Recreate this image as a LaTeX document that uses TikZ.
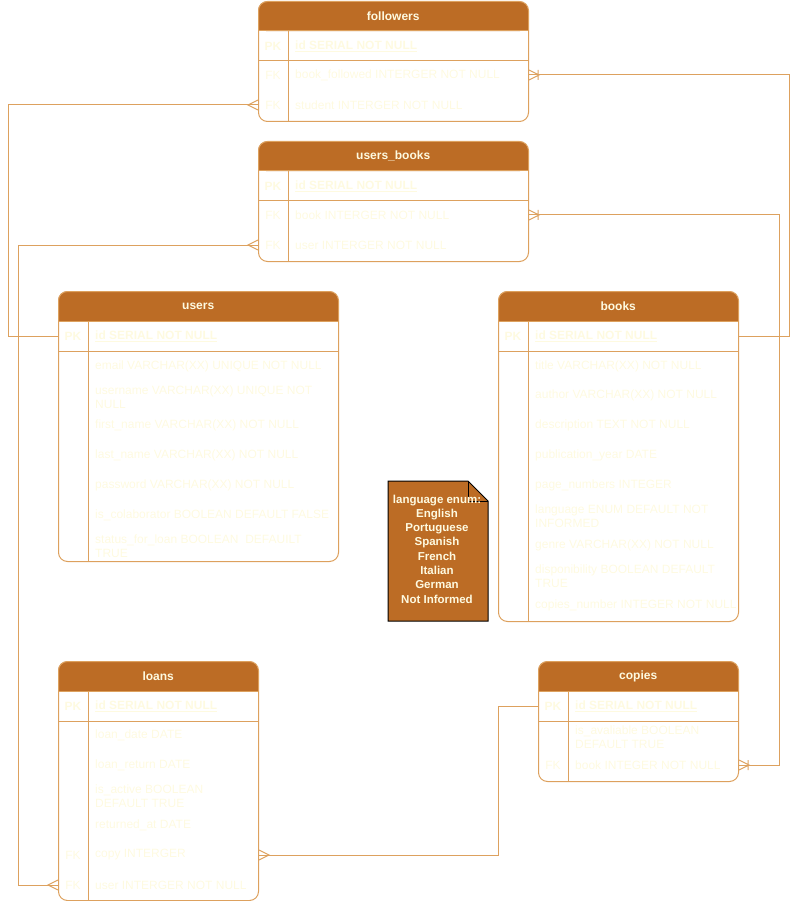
\documentclass[tikz,border=0pt]{standalone}
\usepackage{fontspec}
\setmainfont{Liberation Sans}
\usepackage{tikz}
\usetikzlibrary{calc}

\definecolor{erhead}{HTML}{BC6C25}
\definecolor{erline}{HTML}{DDA15E}
\definecolor{ercream}{HTML}{FEFAE0}

\tikzset{
  tbl/.style={draw=erline, line width=1pt, rounded corners=9pt, anchor=north west, inner sep=0pt},
  hdr/.style={fill=erhead, text=ercream, font=\bfseries\fontsize{12}{14}\selectfont, rounded corners=9pt, anchor=north west, inner sep=0pt},
  fld/.style={text=ercream, anchor=west, align=left, inner sep=0pt, font=\fontsize{12}{14}\selectfont},
  pkfld/.style={fld, font=\bfseries\fontsize{12}{14}\selectfont},
  key/.style={text=ercream, inner sep=0pt, font=\fontsize{12}{14}\selectfont},
  pkkey/.style={key, font=\bfseries\fontsize{12}{14}\selectfont},
  sep/.style={draw=erline, line width=1pt},
  rel/.style={draw=erline, line width=1pt},
  notebox/.style={fill=erhead, draw=black, line width=1pt},
  many/.pic={\draw[rel] (0,-5) -- (-10,0) -- (0,5);},
  onemany/.pic={\draw[rel] (0,-5) -- (-10,0) -- (0,5) (-9,-5) -- (-9,5);}
}

\begin{document}
\begin{tikzpicture}[x=1pt,y=-1pt]
      \useasboundingbox (0,0) rectangle (796,901);

      % followers
      \fill[erhead] (258,20) rectangle (528,31);
      \node[hdr, minimum width=270, minimum height=30] (followers-h) at (258,1) {followers};
      \node[tbl, minimum width=270, minimum height=120] (followers) at (258,1) {};
      \draw[sep] (258,31) -- (528,31) (258,61) -- (528,61) (288,31) -- (288,121);
      \node[pkkey] at (273,46) {PK};
      \node[pkfld] (followers-id) at (295,46) {\underline{id SERIAL NOT NULL}};
      \node[key] at (273,75) {FK};
      \node[fld] (followers-book) at (295,75) {book\_followed INTERGER NOT NULL};
      \node[key] at (273,105) {FK};
      \node[fld] (followers-student) at (295,105) {student INTERGER NOT NULL};

      % users_books
      \fill[erhead] (258,160) rectangle (528,171);
      \node[hdr, minimum width=270, minimum height=30] (usersbooks-h) at (258,141) {users\_books};
      \node[tbl, minimum width=270, minimum height=120] (usersbooks) at (258,141) {};
      \draw[sep] (258,171) -- (528,171) (258,201) -- (528,201) (288,171) -- (288,261);
      \node[pkkey] at (273,186) {PK};
      \node[pkfld] (usersbooks-id) at (295,186) {\underline{id SERIAL NOT NULL}};
      \node[key] at (273,215) {FK};
      \node[fld] (usersbooks-book) at (295,215) {book INTERGER NOT NULL};
      \node[key] at (273,245) {FK};
      \node[fld] (usersbooks-user) at (295,245) {user INTERGER NOT NULL};

      % users
      \fill[erhead] (58,310) rectangle (338,321);
      \node[hdr, minimum width=280, minimum height=30] (users-h) at (58,291) {users};
      \node[tbl, minimum width=280, minimum height=270] (users) at (58,291) {};
      \draw[sep] (58,321) -- (338,321) (58,351) -- (338,351) (88,321) -- (88,561);
      \node[pkkey] at (73,336) {PK};
      \node[pkfld] (users-id) at (95,336) {\underline{id SERIAL NOT NULL}};
      \node[fld] (users-email) at (95,366) {email VARCHAR(XX) UNIQUE NOT NULL};
      \node[fld] (users-username) at (95,397) {username VARCHAR(XX) UNIQUE NOT\\NULL};
      \node[fld] (users-first) at (95,425) {first\_name VARCHAR(XX) NOT NULL};
      \node[fld] (users-last) at (95,455) {last\_name VARCHAR(XX) NOT NULL};
      \node[fld] (users-password) at (95,485) {password VARCHAR(XX) NOT NULL};
      \node[fld] (users-colab) at (95,515) {is\_colaborator BOOLEAN DEFAULT FALSE};
      \node[fld] (users-status) at (95,546) {status\_for\_loan BOOLEAN\ \ DEFAUILT\\TRUE};

      % books
      \fill[erhead] (498,310) rectangle (738,321);
      \node[hdr, minimum width=240, minimum height=30] (books-h) at (498,291) {books};
      \node[tbl, minimum width=240, minimum height=330] (books) at (498,291) {};
      \draw[sep] (498,321) -- (738,321) (498,351) -- (738,351) (528,321) -- (528,621);
      \node[pkkey] at (513,336) {PK};
      \node[pkfld] (books-id) at (535,336) {\underline{id SERIAL NOT NULL}};
      \node[fld] (books-title) at (535,366) {title VARCHAR(XX) NOT NULL};
      \node[fld] (books-author) at (535,395) {author VARCHAR(XX) NOT NULL};
      \node[fld] (books-desc) at (535,425) {description TEXT NOT NULL};
      \node[fld] (books-year) at (535,455) {publication\_year DATE};
      \node[fld] (books-pages) at (535,485) {page\_numbers INTEGER};
      \node[fld] (books-lang) at (535,516) {language ENUM DEFAULT NOT\\INFORMED};
      \node[fld] (books-genre) at (535,545) {genre VARCHAR(XX) NOT NULL};
      \node[fld] (books-disp) at (535,576) {disponibility BOOLEAN DEFAULT\\TRUE};
      \node[fld] (books-copies) at (535,605) {copies\_number INTEGER NOT NULL};

      % enum note
      \draw[notebox] (388,481) -- (468,481) -- (488,501) -- (488,621) -- (388,621) -- cycle;
      \draw[black, line width=1pt] (468,481) -- (468,501) -- (488,501);
      \node[text=ercream, align=center, inner sep=0pt, font=\bfseries\fontsize{11.5}{14.3}\selectfont] (enum) at (437,549)
        {language enum:\\English\\Portuguese\\Spanish\\French\\Italian\\German\\Not Informed};

      % loans
      \fill[erhead] (58,680) rectangle (258,691);
      \node[hdr, minimum width=200, minimum height=30] (loans-h) at (58,661) {loans};
      \node[tbl, minimum width=200, minimum height=239] (loans) at (58,661) {};
      \draw[sep] (58,691) -- (258,691) (58,721) -- (258,721) (88,691) -- (88,900);
      \node[pkkey] at (73,706) {PK};
      \node[pkfld] (loans-id) at (95,706) {\underline{id SERIAL NOT NULL}};
      \node[fld] (loans-date) at (95,735) {loan\_date DATE};
      \node[fld] (loans-return) at (95,765) {loan\_return DATE};
      \node[fld] (loans-active) at (95,796) {is\_active BOOLEAN\\DEFAULT TRUE};
      \node[fld] (loans-returned) at (95,825) {returned\_at DATE};
      \node[key] at (73,855) {FK};
      \node[fld] (loans-copy) at (95,855) {copy INTERGER};
      \node[key] at (73,885) {FK};
      \node[fld] (loans-user) at (95,885) {user INTERGER NOT NULL};

      % copies
      \fill[erhead] (538,680) rectangle (738,691);
      \node[hdr, minimum width=200, minimum height=30] (copies-h) at (538,661) {copies};
      \node[tbl, minimum width=200, minimum height=120] (copies) at (538,661) {};
      \draw[sep] (538,691) -- (738,691) (538,721) -- (738,721) (568,691) -- (568,781);
      \node[pkkey] at (553,706) {PK};
      \node[pkfld] (copies-id) at (575,706) {\underline{id SERIAL NOT NULL}};
      \node[fld] (copies-avail) at (575,737) {is\_avaliable BOOLEAN\\DEFAULT TRUE};
      \node[key] at (553,765) {FK};
      \node[fld] (copies-book) at (575,765) {book INTEGER NOT NULL};

      % relations
      \draw[rel] (users.west |- users-id) -- ++(-50,0) |- (followers.west |- followers-student);
      \draw[rel] (users.west |- users-id) -- ++(-40,0) |- (usersbooks.west |- usersbooks-user);
      \draw[rel] (users.west |- users-id) -- ++(-40,0) |- (loans.west |- loans-user);
      \draw[rel] (books.east |- books-id) -- ++(50,0) |- (followers.east |- followers-book);
      \draw[rel] (books.east |- books-id) -- ++(40,0) |- (usersbooks.east |- usersbooks-book);
      \draw[rel] (books.east |- books-id) -- ++(40,0) |- (copies.east |- copies-book);
      \draw[rel] (copies.west |- copies-id) -- ++(-40,0) |- (loans.east |- loans-copy);

      \pic at (followers.west |- followers-student) {many};
      \pic at (usersbooks.west |- usersbooks-user) {many};
      \pic at (loans.west |- loans-user) {many};
      \pic[rotate=180] at (loans.east |- loans-copy) {many};
      \pic[rotate=180] at (followers.east |- followers-book) {onemany};
      \pic[rotate=180] at (usersbooks.east |- usersbooks-book) {onemany};
      \pic[rotate=180] at (copies.east |- copies-book) {onemany};
\end{tikzpicture}
\end{document}
